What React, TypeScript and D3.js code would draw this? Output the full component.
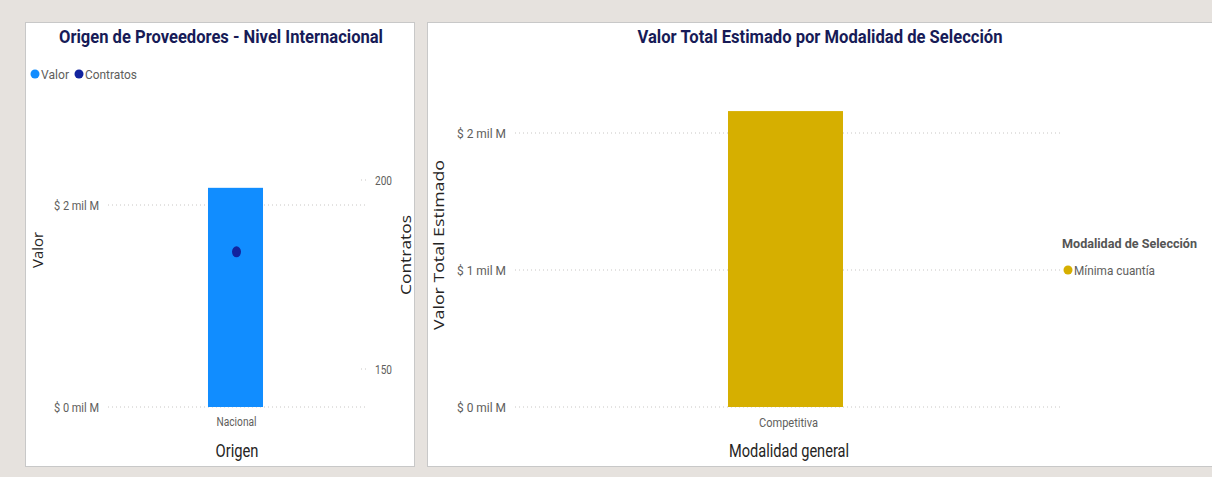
import React from "react";
import * as d3 from "d3";

// ---- Data ----
const origenCategories = ["Nacional"];
const origenValor = [2.17]; // mil M (miles de millones)
const origenContratos = [181];
const valorTicks = [0, 2];
const contratosTicks = [150, 200];

const modalidadCategories = ["Competitiva"];
const modalidadValor = [2.16];
const modalidadTicks = [0, 1, 2];
const legendModalidad = ["Mínima cuantía"];

const W = 1212;
const H = 477;
const BG = "#E6E2DE";
const BLUE = "#118DFF";
const NAVY = "#12239E";
const GOLD = "#D6AF00";
const TITLE = "#171B57";
const TXT = "#605E5C";
const NARROW = "Roboto, 'Liberation Sans', sans-serif";
const SANS = "'Open Sans', 'Noto Sans', sans-serif";

const fmtMil = (v: number) => `$ ${v} mil M`;

type TProps = {
  x?: number;
  y?: number;
  len: number;
  size: number;
  anchor?: "start" | "middle" | "end";
  family?: string;
  weight?: string;
  fill?: string;
  transform?: string;
  children: React.ReactNode;
};

function T({ x = 0, y = 0, len, size, anchor = "start", family = NARROW, weight = "normal", fill = TXT, transform, children }: TProps) {
  return (
    <text
      x={x}
      y={y}
      transform={transform}
      textAnchor={anchor}
      fontFamily={family}
      fontWeight={weight}
      fontSize={size}
      fill={fill}
      textLength={len}
      lengthAdjust="spacingAndGlyphs"
    >
      {children}
    </text>
  );
}

export default function App() {
  // Left chart scales
  const xL = d3.scaleBand<string>().domain(origenCategories).range([104, 367]).padding(0.654);
  const yL = d3.scaleLinear().domain([0, 2]).range([407, 205]);
  const yC = d3.scaleLinear().domain([150, 200]).range([369, 180]);

  // Right chart scales
  const xR = d3.scaleBand<string>().domain(modalidadCategories).range([511, 1060]).padding(0.6536);
  const yR = d3.scaleLinear().domain([0, 2]).range([407, 133]);

  return (
    <svg width={W} height={H} style={{ position: "absolute", left: 0, top: 0, display: "block" }}>
      <rect x={0} y={0} width={W} height={H} fill={BG} />

      {/* Left panel */}
      <rect x={25.5} y={22.5} width={389} height={444} fill="#fff" stroke="#C8C8C8" />
      <T x={221} y={43} len={324} size={19} anchor="middle" weight="bold" fill={TITLE}>
        Origen de Proveedores - Nivel Internacional
      </T>
      {/* legend */}
      <circle cx={35} cy={74} r={4.5} fill={BLUE} />
      <T x={41} y={78.5} len={28} size={13}>Valor</T>
      <circle cx={79} cy={74} r={4.5} fill={NAVY} />
      <T x={85} y={78.5} len={52} size={13}>Contratos</T>

      {/* gridlines left */}
      {valorTicks.map((t) => (
        <g key={"lg" + t}>
          <line x1={108} x2={367} y1={yL(t)} y2={yL(t)} stroke="#C8C6C4" strokeDasharray="1,3" />
          <T x={99} y={yL(t) + 4.5} len={45} size={12.5} anchor="end">{fmtMil(t)}</T>
        </g>
      ))}
      {contratosTicks.map((t) => (
        <g key={"lc" + t}>
          <line x1={361} x2={368} y1={yC(t)} y2={yC(t)} stroke="#C8C6C4" strokeDasharray="1,3" />
          <T x={375} y={yC(t) + 4.5} len={17} size={12.5}>{String(t)}</T>
        </g>
      ))}
      {origenCategories.map((c, i) => (
        <g key={c}>
          <rect x={xL(c)!} y={yL(origenValor[i])} width={xL.bandwidth()} height={yL(0) - yL(origenValor[i])} fill={BLUE} />
          <ellipse cx={xL(c)! + xL.bandwidth() / 2 + 1} cy={yC(origenContratos[i])} rx={4.5} ry={5.5} fill={NAVY} />
          <T x={xL(c)! + xL.bandwidth() / 2 + 1} y={426} len={40} size={12} anchor="middle">{c}</T>
        </g>
      ))}
      <T x={237} y={457} len={43} size={18} anchor="middle" fill="#252423">Origen</T>
      <T transform="translate(43,250) rotate(-90)" len={36} size={15} anchor="middle" family={SANS} fill="#252423">Valor</T>
      <T transform="translate(411,255) rotate(-90)" len={80} size={15} anchor="middle" family={SANS} fill="#252423">Contratos</T>

      {/* Right panel */}
      <rect x={427.5} y={22.5} width={800} height={444} fill="#fff" stroke="#C8C8C8" />
      <T x={820} y={43} len={365} size={19} anchor="middle" weight="bold" fill={TITLE}>
        Valor Total Estimado por Modalidad de Selección
      </T>
      {modalidadTicks.map((t) => (
        <g key={"rg" + t}>
          <line x1={515} x2={1060} y1={yR(t)} y2={yR(t)} stroke="#C8C6C4" strokeDasharray="1,3" />
          <T x={506} y={yR(t) + 4.5} len={49} size={12.5} anchor="end">{fmtMil(t)}</T>
        </g>
      ))}
      {modalidadCategories.map((c, i) => (
        <g key={c}>
          <rect x={xR(c)!} y={yR(modalidadValor[i])} width={xR.bandwidth()} height={yR(0) - yR(modalidadValor[i])} fill={GOLD} />
          <T x={xR(c)! + xR.bandwidth() / 2 + 3} y={427} len={59} size={12} anchor="middle">{c}</T>
        </g>
      ))}
      <T x={789} y={457} len={120} size={18} anchor="middle" fill="#252423">Modalidad general</T>
      <T transform="translate(444,245) rotate(-90)" len={170} size={15} anchor="middle" family={SANS} fill="#252423">
        Valor Total Estimado
      </T>
      <T x={1062} y={248} len={135} size={13.5} weight="bold" fill="#555">Modalidad de Selección</T>
      {legendModalidad.map((l, i) => (
        <g key={l}>
          <circle cx={1068} cy={270 + i * 18} r={4.5} fill={GOLD} />
          <T x={1074} y={275 + i * 18} len={81} size={13.5}>{l}</T>
        </g>
      ))}
    </svg>
  );
}
